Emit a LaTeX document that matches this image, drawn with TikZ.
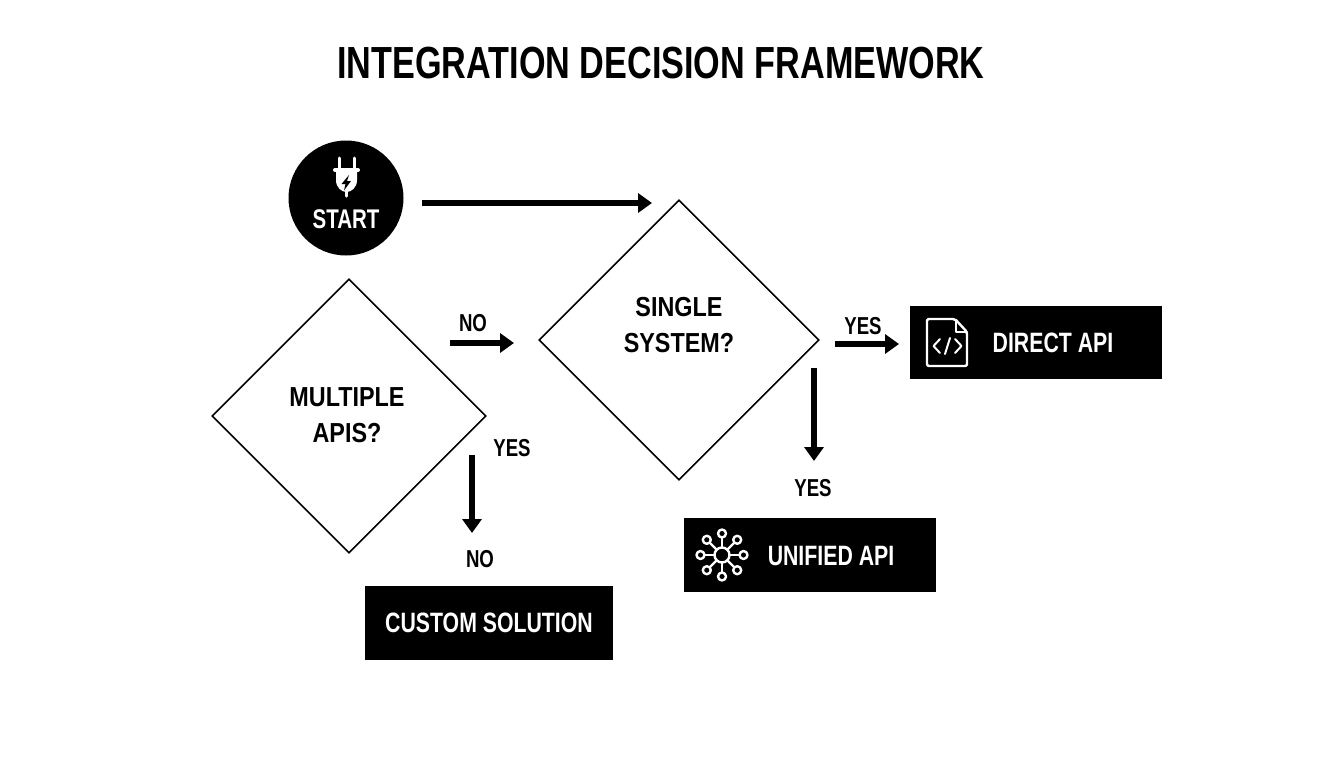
\documentclass[tikz,border=0pt]{standalone}
\usepackage{fontspec}
\setmainfont{Liberation Sans}[FakeStretch=0.85]
\newfontfamily\narrowfont{Liberation Sans}[FakeStretch=0.76]
\usepackage{tikz}
\usetikzlibrary{shapes.geometric}
\usetikzlibrary{arrows.meta}
\usetikzlibrary{calc}
\tikzstyle{decision}=[draw=black,line width=1.6pt,diamond,aspect=1,inner sep=0pt]
\tikzstyle{result}=[fill=black,text=white,inner sep=0pt,font=\narrowfont\fontsize{28}{32}\bfseries]
\tikzstyle{label}=[font=\narrowfont\fontsize{24.5}{28}\bfseries,inner sep=0pt]
\tikzstyle{question}=[inner sep=0pt,align=center,font=\fontsize{27.500}{36}\bfseries]
\tikzstyle{flow}=[line width=6pt,-{Triangle[length=14pt,width=19pt]}]
\tikzstyle{icon}=[white,line width=2pt,line join=round,line cap=round]
\begin{document}
\begin{tikzpicture}[x=1pt,y=-1pt]
        \useasboundingbox (0,0) rectangle (1344,768);
        \node[inner sep=0pt,font=\narrowfont\fontsize{45}{50}\bfseries] (title) at (661,63) {INTEGRATION DECISION FRAMEWORK};
        % start
        \node[circle,fill=black,minimum size=115pt,inner sep=0pt] (start) at (346,198) {};
        \node[label,text=white,font=\narrowfont\fontsize{27}{30}\bfseries] (starttext) at (346,219) {START};
        \draw[icon,line width=3pt] (339,158) -- (339,168) (354,158) -- (354,168);
        \draw[icon,line width=4pt] (335,170) -- (358,170);
        \fill[white] (336,170) -- (357,170) -- (357,180) .. controls (357,188) and (351,192) .. (346.500,192) .. controls (342,192) and (336,188) .. (336,180) -- cycle;
        \draw[icon,line width=3.500pt] (346.500,191) -- (346.500,196);
        \fill[black] (349,175) -- (341.500,184) -- (345.500,184) -- (344,190.500) -- (351,181) -- (347,181) -- cycle;
        % decisions
        \node[decision,minimum width=280pt,minimum height=280pt] (single) at (679,340) {};
        \node[decision,minimum width=274pt,minimum height=274pt] (multiple) at (349,416) {};
        \node[question] (singletext) at (679,325) {SINGLE\\SYSTEM?};
        \node[question] (multipletext) at (347,415) {MULTIPLE\\APIS?};
        % results
        \node[result,minimum width=252pt,minimum height=73pt] (direct) at (1036,342.500) {};
        \node[result,minimum width=252pt,minimum height=74pt] (unified) at (810,555) {};
        \node[result,minimum width=248pt,minimum height=74pt] (custom) at (489,623) {CUSTOM SOLUTION};
        \node[result] (directtext) at (1053,343) {DIRECT API};
        \node[result] (unifiedtext) at (831,556) {UNIFIED API};
        % document icon
        \draw[icon,line width=2.400pt,rounded corners=2pt] (955,319) -- (927,319) -- (927,366) -- (967,366) -- (967,332) -- cycle;
        \draw[icon,line width=2.400pt] (956,320) -- (956,332) -- (967,332);
        \draw[icon] (940,339) -- (933.500,346) -- (940,353);
        \draw[icon] (955,339) -- (961.500,346) -- (955,353);
        \draw[icon] (950,338) -- (945,354);
        % hub icon
        \coordinate (hub) at (722,555);
        \draw[icon,line width=2.400pt] (hub) circle (7.500pt);
        \foreach \a in {0,45,...,315}{
          \draw[icon,line width=2.400pt] ($(hub)+(\a:7.500pt)$) -- ($(hub)+(\a:17.500pt)$);
          \draw[icon,line width=2.400pt] ($(hub)+(\a:21.500pt)$) circle (4pt);
        }
        % connectors
        \coordinate (a1) at (422,203);
        \coordinate (a2) at (652,203);
        \coordinate (b1) at (450,343);
        \coordinate (b2) at (514,343);
        \coordinate (c1) at (835,344);
        \coordinate (c2) at (899,344);
        \coordinate (d1) at (814,368);
        \coordinate (d2) at (814,461);
        \coordinate (e1) at (472,455);
        \coordinate (e2) at (472,533);
        \draw[flow] (a1) -- (a2);
        \draw[flow] (b1) -- (b2);
        \draw[flow] (c1) -- (c2);
        \draw[flow] (d1) -- (d2);
        \draw[flow] (e1) -- (e2);
        % labels
        \node[label] (no1) at (473,323) {NO};
        \node[label] (yes1) at (863,326) {YES};
        \node[label] (yes2) at (813,488) {YES};
        \node[label] (yes3) at (512,448) {YES};
        \node[label] (no2) at (480,559) {NO};
      \end{tikzpicture}
\end{document}
